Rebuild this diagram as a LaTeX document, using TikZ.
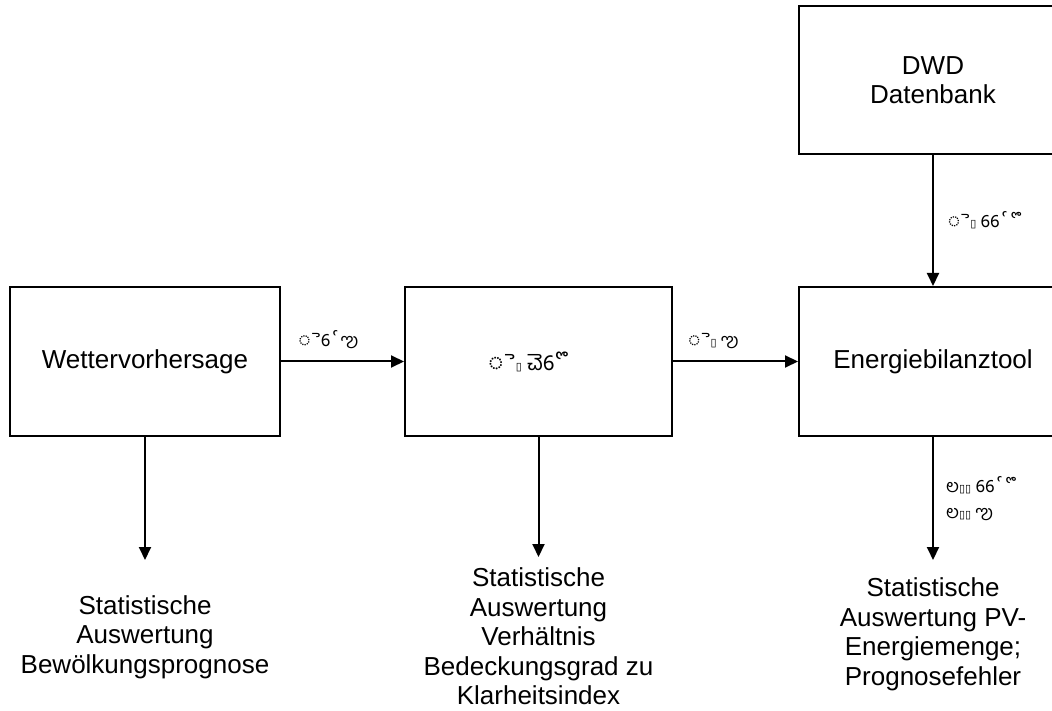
\documentclass[tikz,border=0pt]{standalone}
\usepackage{fontspec}
\setmainfont{Liberation Sans}
\newfontfamily\telfont[Script=Telugu]{Hind Guntur}
\newfontfamily\tofufont{DejaVu Sans}
\usetikzlibrary{arrows.meta}

\def\tofu{{\tofufont\fontsize{11}{11}\selectfont ▯}}

\begin{document}
\begin{tikzpicture}[x=1pt,y=1pt]

\def\midrow{348.5}
\def\colA{145}
\def\colB{538.5}
\def\colC{933}

\tikzstyle{block}=[rectangle,draw,line width=2pt,minimum height=149pt,minimum width=268pt,inner sep=0pt,font=\fontsize{26}{29.5}\selectfont]
\tikzstyle{flow}=[line width=2pt,-{Triangle[length=13pt,width=12pt]}]
\tikzstyle{sym}=[inner sep=0pt,font=\fontsize{18}{26}\selectfont\telfont]
\tikzstyle{result}=[align=center,inner sep=0pt,font=\fontsize{26}{29.5}\selectfont]

\useasboundingbox (0,0) rectangle (1052,710);

%boxes
\node[block,minimum width=270pt] (wetter) at (\colA,\midrow) {Wettervorhersage};
\node[block,minimum width=267pt] (klar) at (\colB,\midrow) {};
\node[sym,font=\fontsize{22}{26}\selectfont\telfont] (klartext) at (530,\midrow) {ె\tofu{} చె6ొ};
\node[block] (bilanz) at (\colC,\midrow) {Energiebilanztool};
\node[block,minimum height=148pt,align=center] (dwd) at (\colC,630) {DWD\\Datenbank};

%connections
\draw[flow] (wetter) -- (klar) node[sym,midway,above=12pt,xshift=-14pt] (labA) {ె6ౕఌ};
\draw[flow] (klar) -- (bilanz) node[sym,midway,above=12pt,xshift=-22pt] (labB) {ె\tofu{} ఌ};
\draw[flow] (dwd) -- (bilanz) node[sym,midway,right=14pt] (labC) {ె\tofu{} 66ౕొ};

% results
\coordinate (endA) at (\colA,150);
\coordinate (endB) at (\colB,153);
\coordinate (endC) at (\colC,150);
\draw[flow] (wetter) -- (endA);
\draw[flow] (klar) -- (endB);
\draw[flow] (bilanz) -- (endC);
\node[sym,align=left,anchor=west] (labD) at (946,211) {ల\tofu\tofu{} 66ౕొ\\ల\tofu\tofu{} ఌ};

\node[result] (statA) at (\colA,73) {Statistische\\Auswertung\\Bewölkungsprognose};
\node[result] (statB) at (\colB,73.5) {Statistische\\Auswertung\\Verhältnis\\Bedeckungsgrad zu\\Klarheitsindex};
\node[result] (statC) at (\colC,75.5) {Statistische\\Auswertung PV-\\Energiemenge;\\Prognosefehler};

\end{tikzpicture}
\end{document}
